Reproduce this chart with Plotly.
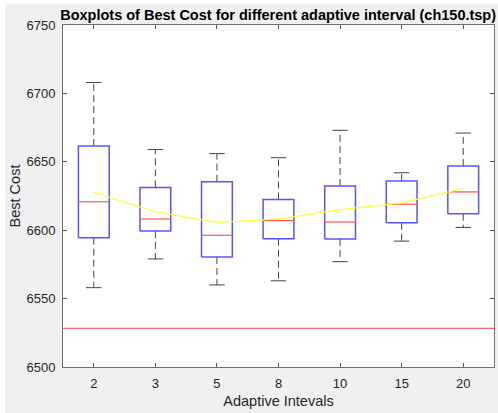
import plotly.graph_objects as go

categories = ["2", "3", "5", "8", "10", "15", "20"]
lower_whisker = [6558, 6579, 6560, 6563, 6577, 6592, 6602]
q1 = [6594.5, 6599.4, 6580.4, 6593.8, 6593.6, 6605.5, 6612]
median = [6620.8, 6608.2, 6596.3, 6607, 6606, 6619, 6628]
q3 = [6661.5, 6631.3, 6635.5, 6622.5, 6632.3, 6636, 6647]
upper_whisker = [6708, 6659, 6656, 6653, 6673, 6642, 6671]
means = [6627.7, 6613.5, 6605.7, 6608.3, 6615, 6620, 6630.5]
best_known = 6528.3

pos = list(range(1, len(categories) + 1))
bw = 0.25   # half box width
cw = 0.125  # half cap width

box_x, box_y = [], []
med_x, med_y = [], []
wh_x, wh_y = [], []
cap_x, cap_y = [], []
for i, p in enumerate(pos):
    box_x += [p - bw, p + bw, p + bw, p - bw, p - bw, None]
    box_y += [q1[i], q1[i], q3[i], q3[i], q1[i], None]
    med_x += [p - bw, p + bw, None]
    med_y += [median[i], median[i], None]
    wh_x += [p, p, None, p, p, None]
    wh_y += [q3[i], upper_whisker[i], None, q1[i], lower_whisker[i], None]
    cap_x += [p - cw, p + cw, None, p - cw, p + cw, None]
    cap_y += [upper_whisker[i], upper_whisker[i], None, lower_whisker[i], lower_whisker[i], None]

fig = go.Figure()
fig.add_trace(go.Scatter(x=wh_x, y=wh_y, mode="lines",
                         line=dict(color="#444444", width=1, dash="7px,4px")))
fig.add_trace(go.Scatter(x=cap_x, y=cap_y, mode="lines",
                         line=dict(color="#444444", width=1)))
fig.add_trace(go.Scatter(x=box_x, y=box_y, mode="lines",
                         line=dict(color="#5555ff", width=1.5)))
fig.add_trace(go.Scatter(x=med_x, y=med_y, mode="lines",
                         line=dict(color="#ff5555", width=1.2)))
fig.add_trace(go.Scatter(x=pos, y=means, mode="lines",
                         line=dict(color="#ffff33", width=1.2)))

fig.add_shape(type="line", xref="paper", x0=0, x1=1, yref="y",
              y0=best_known, y1=best_known,
              line=dict(color="#ff6666", width=1.2), layer="above")

font_family = "Liberation Sans, Arial"
axis_common = dict(showline=True, linecolor="#707070", linewidth=1, mirror="ticks",
                   ticks="inside", ticklen=4, tickcolor="#555555",
                   showgrid=False, zeroline=False, ticklabelstandoff=4,
                   tickfont=dict(family=font_family, size=13, color="#262626"))

fig.update_layout(
    width=493, height=409,
    margin=dict(l=58, r=4, t=21, b=46),
    paper_bgcolor="#f0f0f0", plot_bgcolor="white",
    showlegend=False, hovermode=False,
    title=dict(text="<b>Boxplots of Best Cost for different adaptive interval (ch150.tsp)</b>",
               x=0.554, xanchor="center", y=0.973, yanchor="middle",
               font=dict(family=font_family, size=14.5, color="black")),
    xaxis=dict(range=[0.5, 7.5], tickmode="array", tickvals=pos, ticktext=categories,
               title=dict(text="Adaptive Intevals", standoff=6,
                          font=dict(family=font_family, size=14.5, color="#262626")),
               **axis_common),
    yaxis=dict(range=[6500, 6750], tickmode="array",
               tickvals=[6500, 6550, 6600, 6650, 6700, 6750],
               title=dict(text="Best Cost", standoff=2,
                          font=dict(family=font_family, size=14.5, color="#262626")),
               **axis_common),
)

fig.write_html("out.html",
               post_script="document.body.style.margin='4px 0 0 5px';"
                           "document.body.style.overflow='hidden';")
